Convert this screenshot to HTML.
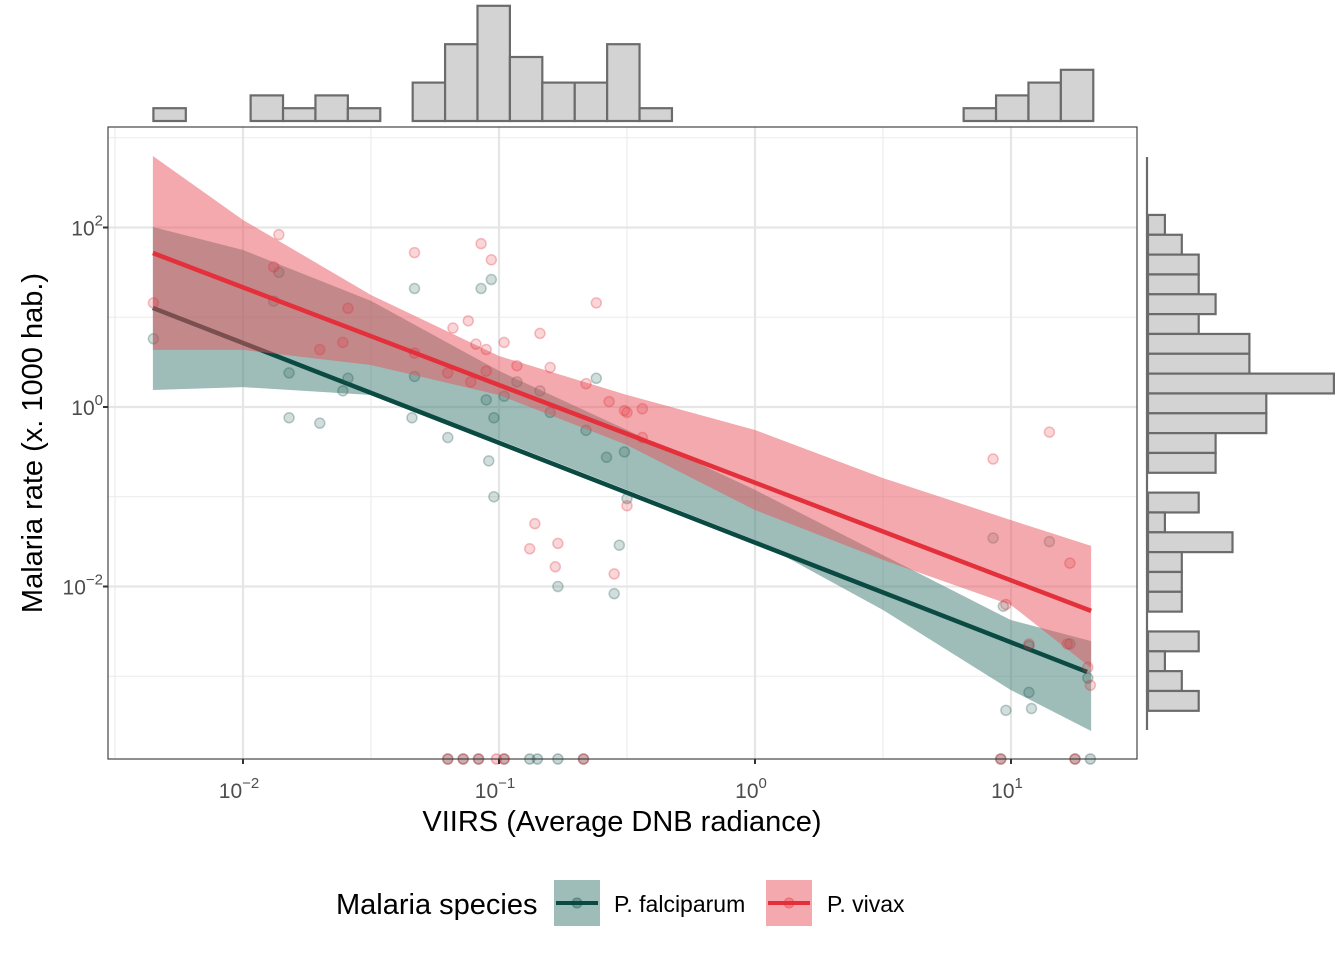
<!DOCTYPE html>
<html><head><meta charset="utf-8"><style>
html,body{margin:0;padding:0;background:#fff;}
svg{display:block;font-family:"Liberation Sans",Arial,sans-serif;}
</style></head><body>
<svg id="chart" width="1344" height="960" viewBox="0 0 1344 960" xmlns="http://www.w3.org/2000/svg">
<g id="grid"></g>
<g id="bands"></g>
<g id="hists"></g>
<rect x="108" y="127" width="1029" height="632" fill="none" stroke="#333" stroke-width="1.1"/>
<g id="axes"></g>
<text x="622" y="831" font-size="29" text-anchor="middle" fill="#000">VIIRS (Average DNB radiance)</text>
<text transform="translate(42,443) rotate(-90)" font-size="29" text-anchor="middle" fill="#000">Malaria rate (x. 1000 hab.)</text>
<g>
<text x="336" y="914" font-size="29" fill="#000">Malaria species</text>
<g>
<rect x="554" y="880" width="46" height="46" fill="#3d7a72" fill-opacity="0.5"/>
<line x1="556" y1="903" x2="598" y2="903" stroke="#0a4a42" stroke-width="4"/>
<circle cx="577" cy="903" r="5" fill="#0a4a42" fill-opacity="0.3" stroke="#0a4a42" stroke-opacity="0.4"/>
<text x="614" y="912" font-size="23" fill="#000">P. falciparum</text></g>
<g>
<rect x="766" y="880" width="46" height="46" fill="#e8545c" fill-opacity="0.5"/>
<line x1="768" y1="903" x2="810" y2="903" stroke="#e3303a" stroke-width="4"/>
<circle cx="789" cy="903" r="5" fill="#e3303a" fill-opacity="0.3" stroke="#e3303a" stroke-opacity="0.4"/>
<text x="827" y="912" font-size="23" fill="#000">P. vivax</text></g>
</g>
</svg>
<script>
// ---- data (log10 units) ----
const xTicks = [-2, -1, 0, 1];
const yTicks = [-2, 0, 2];
const xMinor = [-2.5, -1.5, -0.5, 0.5];
const yMinor = [-3, -1, 1, 3];
const bandX = [-2.352, -2, -1.5, -1, -0.5, 0, 0.5, 1, 1.313];
const vivaxUpper = [2.796, 2.084, 1.248, 0.568, 0.134, -0.256, -0.792, -1.260, -1.548];
const vivaxLower = [0.636, 0.636, 0.468, 0.134, -0.424, -1.148, -1.704, -2.206, -2.908];
const falcUpper = [2.006, 1.750, 1.182, 0.402, -0.256, -0.924, -1.650, -2.374, -2.608];
const falcLower = [0.190, 0.222, 0.134, -0.368, -0.924, -1.482, -2.262, -3.154, -3.610];
const vivaxFitX = [-2.352, 1.313];
const vivaxFitY = [1.716, -2.272];
const falcFitX = [-2.352, 1.297];
const falcFitY = [1.104, -2.952];
const falcX = [-2.35,-1.88,-1.86,-1.82,-1.82,-1.70,-1.61,-1.59,-1.33,-1.34,-1.33,-1.20,-1.07,-1.03,-1.04,-1.02,-1.02,-1.05,-0.98,-0.93,-0.84,-0.80,-0.77,-0.66,-0.62,-0.58,-0.55,-0.53,-0.51,-0.50,0.98,1.08,1.07,1.15,1.30,0.93,0.97,1.07,1.23];
const falcY = [0.76,1.18,1.50,0.38,-0.12,-0.18,0.18,0.32,1.32,-0.12,0.34,-0.34,1.32,1.42,-0.60,-1.00,-0.12,0.08,0.12,0.28,0.18,-0.06,-2.00,-0.26,0.32,-0.56,-2.08,-1.54,-0.50,-1.02,-3.38,-3.36,-3.18,-1.50,-3.02,-1.46,-2.22,-2.66,-2.64];
const falcZeroX = [-1.20,-1.14,-1.08,-0.98,-0.88,-0.85,-0.77,-0.67,0.96,1.25,1.31];
const vivaxX = [-2.35,-1.86,-1.88,-1.59,-1.70,-1.61,-1.33,-1.07,-1.03,-1.18,-1.12,-1.09,-1.05,-0.98,-0.62,-0.84,-0.80,-1.33,-1.20,-1.11,-1.05,-0.93,-0.66,-0.57,-0.51,-0.50,-0.44,-0.50,-0.86,-0.88,-0.77,-0.78,-0.55,-0.44,0.93,1.15,0.98,1.23,1.30,1.31,1.07,1.22];
const vivaxY = [1.16,1.92,1.56,1.10,0.64,0.72,1.72,1.82,1.64,0.88,0.96,0.70,0.64,0.72,1.16,0.82,0.44,0.60,0.38,0.28,0.40,0.46,0.26,0.06,-0.04,-0.06,-0.02,-1.10,-1.30,-1.58,-1.52,-1.78,-1.86,-0.34,-0.58,-0.28,-2.20,-1.74,-2.90,-3.10,-2.64,-2.64];
const vivaxZeroX = [-1.20,-1.14,-1.08,-1.01,-0.98,-0.67,0.96,1.25];
const topHistStart = -2.35;
const topHistWidth = 0.1266;
const topHistCounts = [1,0,0,2,1,2,1,0,3,6,9,5,3,3,6,1,0,0,0,0,0,0,0,0,0,1,2,3,4];
const rightHistTop = 2.14;
const rightHistWidth = 0.221;
const rightHistCounts = [1,2,3,3,4,3,6,6,11,7,7,4,4,0,3,1,5,2,2,2,0,3,1,2,3];

// ---- scales ----
const X0 = 108, X1 = 1137, Y0 = 127, Y1 = 759;
const YD = 89.75;
const sx = v => 755 + v * 256;
const syRaw = v => 407 - v * YD;
const sy = v => Math.min(Y1, Math.max(Y0, syRaw(v)));
const NS = 'http://www.w3.org/2000/svg';
function mk(tag, parent, attrs) {
  const e = document.createElementNS(NS, tag);
  for (const k in attrs) e.setAttribute(k, attrs[k]);
  parent.appendChild(e);
  return e;
}
const grid = document.getElementById('grid');
const bands = document.getElementById('bands');
const hists = document.getElementById('hists');
const axes = document.getElementById('axes');

xMinor.forEach(v => {
  const l = mk('line', grid, {x1: sx(v), x2: sx(v), y1: Y0, y2: Y1, stroke: '#ebebeb', 'stroke-width': 1.1});
  
  
});
yMinor.forEach(v => {
  const p = syRaw(v);
  if (p < Y0 || p > Y1) return;
  const l = mk('line', grid, {x1: X0, x2: X1, y1: p, y2: p, stroke: '#ebebeb', 'stroke-width': 1.1});
  
  
});
xTicks.forEach(v => {
  const l = mk('line', grid, {x1: sx(v), x2: sx(v), y1: Y0, y2: Y1, stroke: '#e6e6e6', 'stroke-width': 2.2});
  
  
  const t = mk('line', axes, {x1: sx(v), x2: sx(v), y1: Y1, y2: Y1 + 5, stroke: '#333', 'stroke-width': 2});
  
  
  const tx = mk('text', axes, {x: sx(v) - 4, y: 798, 'font-size': 21, 'text-anchor': 'middle', fill: '#4d4d4d'});
  
  
  tx.innerHTML = '10<tspan dy="-10" font-size="15">' + (v < 0 ? '\u2212' + (-v) : v) + '</tspan>';
});
yTicks.forEach(v => {
  const p = syRaw(v);
  const l = mk('line', grid, {x1: X0, x2: X1, y1: p, y2: p, stroke: '#e6e6e6', 'stroke-width': 2.2});
  
  
  const t = mk('line', axes, {x1: X0 - 5, x2: X0, y1: p, y2: p, stroke: '#333', 'stroke-width': 2});
  
  
  const tx = mk('text', axes, {x: 103, y: p + 8, 'font-size': 21, 'text-anchor': 'end', fill: '#4d4d4d'});
  
  
  tx.innerHTML = '10<tspan dy="-10" font-size="15">' + (v < 0 ? '\u2212' + (-v) : v) + '</tspan>';
});

function ribbon(up, lo, fill, name) {
  let d = 'M' + bandX.map((x, i) => sx(x) + ',' + sy(up[i])).join('L');
  d += 'L' + bandX.map((x, i) => sx(x) + ',' + sy(lo[i])).reverse().join('L') + 'Z';
  const p = mk('path', bands, {d: d, fill: fill, 'fill-opacity': 0.5});
  
  
}
function fit(xs, ys, col, name) {
  const l = mk('line', bands, {x1: sx(xs[0]), y1: sy(ys[0]), x2: sx(xs[1]), y2: sy(ys[1]), stroke: col, 'stroke-width': 4.5});
  
  
}
function pts(xs, ys, col, name) {
  xs.forEach((x, i) => {
    const c = mk('circle', bands, {cx: sx(x), cy: sy(ys[i]), r: 5, fill: col, 'fill-opacity': 0.2, stroke: col, 'stroke-opacity': 0.3, 'stroke-width': 1.5});
    
    
  });
}
function zeros(xs, col, name) {
  xs.forEach(x => {
    const c = mk('circle', bands, {cx: sx(x), cy: Y1, r: 5, fill: col, 'fill-opacity': 0.25, stroke: col, 'stroke-opacity': 0.35, 'stroke-width': 1.5});
    
    
  });
}
ribbon(falcUpper, falcLower, '#3d7a72', 'falciparum-ribbon');
fit(falcFitX, falcFitY, '#0a4a42', 'falciparum-fit-line');
pts(falcX, falcY, '#1f5a52', 'falciparum-point');
zeros(falcZeroX, '#1f5a52', 'falciparum-zero-point');
ribbon(vivaxUpper, vivaxLower, '#e8545c', 'vivax-ribbon');
fit(vivaxFitX, vivaxFitY, '#e3303a', 'vivax-fit-line');
pts(vivaxX, vivaxY, '#e3303a', 'vivax-point');
zeros(vivaxZeroX, '#e3303a', 'vivax-zero-point');

// top histogram
const topBase = 121, topUnit = 12.8;
topHistCounts.forEach((c, i) => {
  const xa = sx(topHistStart + i * topHistWidth), xb = sx(topHistStart + (i + 1) * topHistWidth);
  const r = mk('rect', hists, {x: xa, y: topBase - c * topUnit, width: xb - xa, height: c * topUnit, fill: '#d3d3d3', stroke: '#6b6b6b', 'stroke-width': 2.2});
  
  
});
// right histogram
const rightBase = 1148, rightUnit = 16.9;
const ax = mk('line', hists, {x1: 1147, x2: 1147, y1: 157, y2: 730, stroke: '#6b6b6b', 'stroke-width': 2.2});


rightHistCounts.forEach((c, i) => {
  const ya = syRaw(rightHistTop - i * rightHistWidth), yb = syRaw(rightHistTop - (i + 1) * rightHistWidth);
  const r = mk('rect', hists, {x: rightBase, y: ya, width: c * rightUnit, height: yb - ya, fill: '#d3d3d3', stroke: '#6b6b6b', 'stroke-width': 2.2});
  
  
});
</script>
</body></html>
